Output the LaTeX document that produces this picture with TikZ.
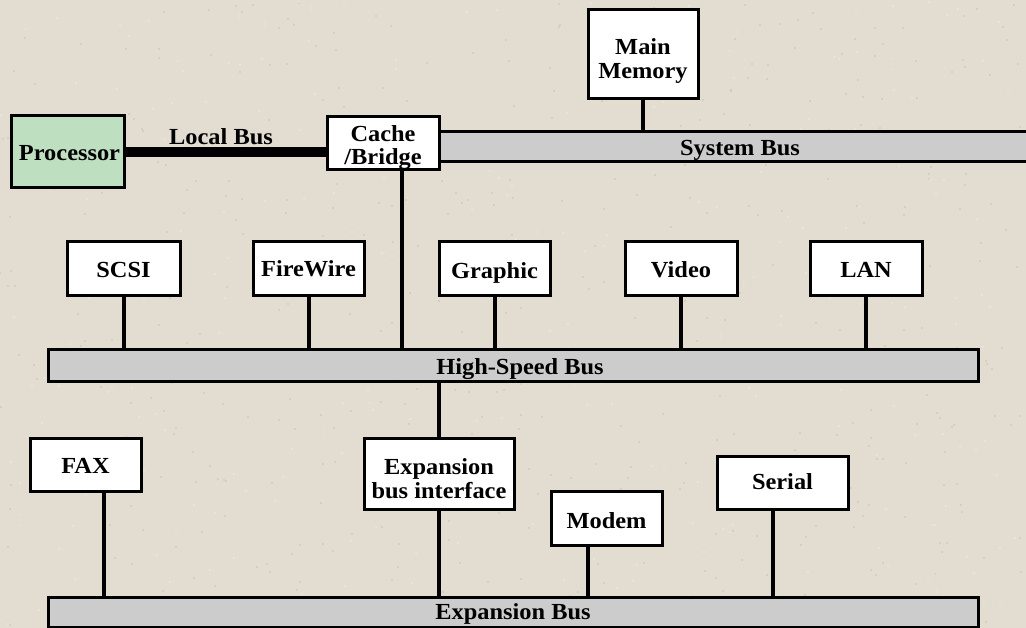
\documentclass[tikz,border=0pt]{standalone}
\usepackage{fontspec}
\setmainfont{Liberation Serif}
\newfontfamily\labelfont[FakeStretch=1.06]{Liberation Serif}
\definecolor{paper}{HTML}{E3DCD0}
\definecolor{speck}{HTML}{B8AFA2}
\definecolor{busgrey}{HTML}{CCCCCC}
\definecolor{cpugreen}{HTML}{BFDFC1}
\tikzset{
  unit/.style={draw=black, line width=3pt, fill=white, inner sep=0pt},
  bus/.style={draw=black, line width=3pt, fill=busgrey, inner sep=0pt},
  txt/.style={inner sep=0pt, align=center,
    font=\labelfont\fontsize{23}{24}\selectfont\bfseries},
  wire/.style={line width=4pt, line cap=butt},
}
\begin{document}
\begin{tikzpicture}[x=1pt,y=-1pt]
  % paper background with light speckle
  \fill[paper] (0,0) rectangle (1026,628);
  \useasboundingbox (0,0) rectangle (1026,628);
  \clip (0,0) rectangle (1026,628);
  \pgfmathsetseed{11}
  \foreach \i in {1,...,500}{
    \pgfmathsetmacro{\px}{random(0,1026)}
    \pgfmathsetmacro{\py}{random(0,628)}
    \fill[speck, opacity=0.6] (\px,\py) circle (0.9pt);
  }
  \foreach \i in {1,...,300}{
    \pgfmathsetmacro{\px}{random(0,1026)}
    \pgfmathsetmacro{\py}{random(0,628)}
    \fill[white, opacity=0.5] (\px,\py) circle (0.9pt);
  }

  % buses (shifts below are in page points: negative moves text down)
  \node[bus, minimum width=592pt, minimum height=30pt] (sysbus) at (734,147) {};
  \node[txt] (systxt) at ([xshift=6pt,yshift=-3pt]sysbus.center) {System Bus};
  \node[bus, minimum width=930pt, minimum height=32pt] (hsbus) at (513,366) {};
  \node[txt] (hstxt) at ([xshift=7pt,yshift=-3pt]hsbus.center) {High-Speed Bus};
  \node[bus, minimum width=930pt, minimum height=30pt] (expbus) at (513,612) {};
  \node[txt] (exptxt) at ([yshift=-2pt]expbus.center) {Expansion Bus};

  % units
  \node[unit, minimum width=110pt, minimum height=89pt] (mem) at (643,54.5) {};
  \node[txt] (memtxt) at ([yshift=-7pt]mem.center) {Main\\Memory};
  \node[unit, minimum width=112pt, minimum height=53pt] (cache) at (383,143.5) {};
  \node[txt, font=\labelfont\fontsize{23}{23}\selectfont\bfseries] (cachetxt) at ([yshift=-4pt]cache.center) {Cache\\/Bridge};
  \node[unit, fill=cpugreen, minimum width=113pt, minimum height=72pt] (cpu) at (67.5,152) {};
  \node[txt] (cputxt) at ([xshift=2pt,yshift=-1pt]cpu.center) {Processor};

  \node[unit, minimum width=113pt, minimum height=54pt] (scsi) at (123.5,269) {};
  \node[unit, minimum width=111pt, minimum height=54pt] (fw) at (308.5,269) {};
  \node[unit, minimum width=111pt, minimum height=54pt] (gfx) at (494.5,269) {};
  \node[unit, minimum width=112pt, minimum height=54pt] (video) at (681,269) {};
  \node[unit, minimum width=112pt, minimum height=54pt] (lan) at (866,269) {};
  \node[txt] (scsitxt) at ([yshift=-1pt]scsi.center) {SCSI};
  \node[txt] (fwtxt) at (fw.center) {FireWire};
  \node[txt] (gfxtxt) at ([yshift=-4pt]gfx.center) {Graphic};
  \node[txt] (videotxt) at ([yshift=-1pt]video.center) {Video};
  \node[txt] (lantxt) at ([yshift=-1pt]lan.center) {LAN};

  \node[unit, minimum width=111pt, minimum height=53pt] (fax) at (85.5,464.5) {};
  \node[txt] (faxtxt) at ([yshift=-1pt]fax.center) {FAX};
  \node[unit, minimum width=150pt, minimum height=71pt] (ebi) at (439,473.5) {};
  \node[txt] (ebitxt) at ([yshift=-5pt]ebi.center) {Expansion\\bus interface};
  \node[unit, minimum width=111pt, minimum height=54pt] (modem) at (606.5,518) {};
  \node[txt] (modemtxt) at ([yshift=-3pt]modem.center) {Modem};
  \node[unit, minimum width=131pt, minimum height=53pt] (serial) at (782.5,482.5) {};
  \node[txt] (serialtxt) at ([yshift=1pt]serial.center) {Serial};

  % local bus
  \draw[line width=10pt] (cpu.east) -- (cpu.east -| cache.west);
  \node[txt] (locallbl) at (221,137) {Local Bus};

  % connections
  \draw[wire] (mem.south) -- (mem.south |- sysbus.north);
  \draw[wire] ([xshift=19pt]cache.south) -- ([xshift=19pt]cache.south |- hsbus.north);
  \foreach \n in {scsi,fw,gfx,video,lan}
    \draw[wire] (\n.south) -- (\n.south |- hsbus.north);
  \draw[wire] (hsbus.south -| ebi.north) -- (ebi.north);
  \draw[wire] (ebi.south) -- (ebi.south |- expbus.north);
  \draw[wire] ([xshift=18.5pt]fax.south) -- ([xshift=18.5pt]fax.south |- expbus.north);
  \draw[wire] ([xshift=-18.5pt]modem.south) -- ([xshift=-18.5pt]modem.south |- expbus.north);
  \draw[wire] ([xshift=-9.5pt]serial.south) -- ([xshift=-9.5pt]serial.south |- expbus.north);
\end{tikzpicture}
\end{document}
